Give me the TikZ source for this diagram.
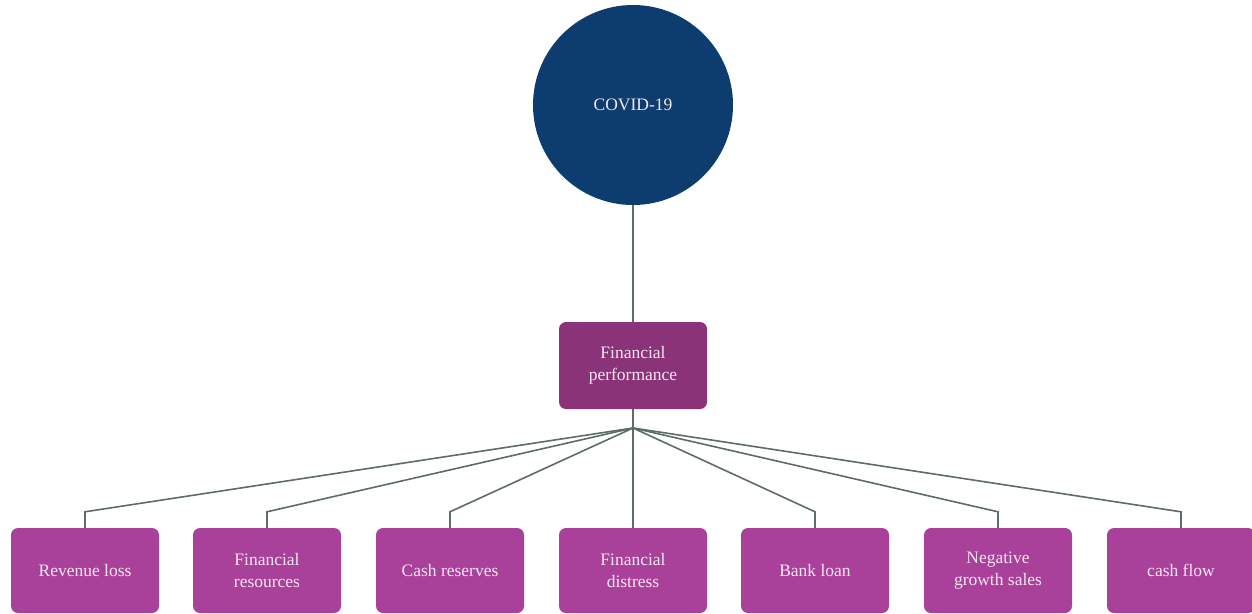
\documentclass[tikz,border=0pt]{standalone}
\usepackage{fontspec}
\setmainfont{Liberation Serif}
\usetikzlibrary{calc}
\definecolor{navy}{HTML}{0D3C6E}
\definecolor{plumdark}{HTML}{8A3379}
\definecolor{plum}{HTML}{A9419A}
\definecolor{labeltext}{HTML}{F6E6F2}
\definecolor{wire}{HTML}{5E6B6B}
\tikzset{
  box/.style={rectangle, rounded corners=7pt, minimum width=148pt, minimum height=87pt,
    text=labeltext, align=center, font=\fontsize{17.5}{22}\selectfont, inner sep=2pt},
  topbox/.style={box, fill=plumdark},
  leafbox/.style={box, fill=plum, minimum height=85pt},
  wireline/.style={draw=wire, line width=1.6pt},
}
\begin{document}
\begin{tikzpicture}[x=1pt,y=-1pt]
\useasboundingbox (0,0) rectangle (1252,613);
\node[circle, fill=navy, minimum size=200pt, text=labeltext,
      font=\fontsize{17.5}{20}\selectfont] (covid) at (633,105) {COVID-19};
\node[topbox] (fp) at (633,365.5) {Financial\\performance};
\coordinate (j) at (633,428);
\foreach \n/\x/\t in {b1/85/Revenue loss, b2/267/Financial\\resources,
    b3/450/Cash reserves, b4/633/Financial\\distress, b5/815/Bank loan,
    b6/998/Negative\\growth sales, b7/1181/cash flow}{
  \node[leafbox] (\n) at (\x,570.5) {\t};
}
\draw[wireline] (covid.south) -- (fp.north);
\draw[wireline] (fp.south) -- (j);
\foreach \n in {b1,b2,b3,b4,b5,b6,b7}{
  \draw[wireline] (j) -- ($(\n.north)+(0,-16)$) -- (\n.north);
}
\end{tikzpicture}
\end{document}
